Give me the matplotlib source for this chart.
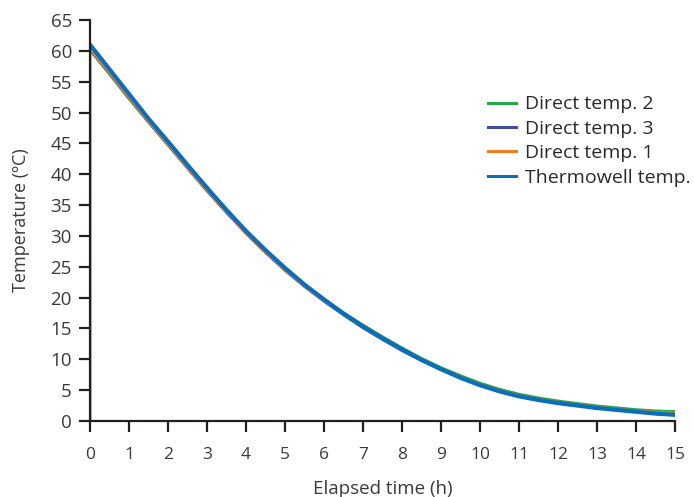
import matplotlib.pyplot as plt

# elapsed time (h), read every half hour
hours = [0, 0.5, 1, 1.5, 2, 2.5, 3, 3.5, 4, 4.5, 5, 5.5, 6, 6.5, 7, 7.5,
         8, 8.5, 9, 9.5, 10, 10.5, 11, 11.5, 12, 12.5, 13, 13.5, 14, 14.5, 15]

thermowell = [61.0, 57.0, 53.0, 49.0, 45.3, 41.5, 37.8, 34.2, 30.8, 27.7, 24.8,
              22.1, 19.7, 17.4, 15.3, 13.4, 11.6, 9.9, 8.4, 7.0, 5.8, 4.8,
              4.0, 3.4, 2.9, 2.5, 2.1, 1.8, 1.5, 1.2, 1.0]
direct1 = [60.4, 56.5, 52.5, 48.6, 44.9, 41.1, 37.4, 33.9, 30.5, 27.4, 24.5,
           21.9, 19.5, 17.3, 15.2, 13.3, 11.5, 9.9, 8.4, 7.1, 5.9, 4.9,
           4.1, 3.5, 3.0, 2.6, 2.2, 1.9, 1.6, 1.4, 1.3]
direct2 = [60.2, 56.3, 52.3, 48.5, 44.8, 41.1, 37.4, 33.9, 30.6, 27.5, 24.7,
           22.1, 19.7, 17.5, 15.5, 13.6, 11.8, 10.1, 8.6, 7.3, 6.1, 5.1,
           4.3, 3.7, 3.2, 2.8, 2.4, 2.1, 1.8, 1.6, 1.5]
direct3 = [60.3, 56.4, 52.4, 48.5, 44.8, 41.0, 37.3, 33.8, 30.4, 27.3, 24.4,
           21.8, 19.4, 17.2, 15.1, 13.2, 11.4, 9.8, 8.3, 7.0, 5.8, 4.8,
           4.0, 3.4, 2.9, 2.5, 2.1, 1.8, 1.5, 1.3, 1.2]

labels = ['Direct temp. 2', 'Direct temp. 3', 'Direct temp. 1', 'Thermowell temp.']
colors = ['#22a84a', '#3f4f9f', '#f47b20', '#0a6ebd']

plt.rcParams['font.family'] = ['Open Sans', 'DejaVu Sans']

fig = plt.figure(figsize=(6.94, 4.97), dpi=100)
ax = fig.add_axes([0.1297, 0.1529, 0.843, 0.8069])

# direct temp 3 trace starts at 0 on the axis
ax.plot(hours, direct2, color=colors[0], lw=2.4, label=labels[0])
ax.plot([0] + hours, [0] + direct3, color=colors[1], lw=2.0, label=labels[1])
ax.plot(hours, direct1, color=colors[2], lw=2.2, label=labels[2])
ax.plot(hours, thermowell, color=colors[3], lw=3.0, label=labels[3])

ax.set_xlim(0, 15)
ax.set_ylim(0, 65)
ax.set_xticks(range(0, 16))
ax.set_yticks(range(0, 66, 5))

dark = '#231f20'
for s in ['top', 'right']:
    ax.spines[s].set_visible(False)
for s in ['left', 'bottom']:
    ax.spines[s].set_color(dark)
    ax.spines[s].set_linewidth(1.6)
ax.tick_params(axis='x', direction='out', length=8, width=1.6, color=dark,
               labelsize=12.5, labelcolor='#3a3a3a', pad=11)
ax.tick_params(axis='y', direction='out', length=8, width=1.6, color=dark,
               labelsize=13.5, labelcolor='#3a3a3a', pad=5)

ax.set_xlabel('Elapsed time (h)', fontsize=13.5, color='#3a3a3a', labelpad=12)
ax.set_ylabel('Temperature (ºC)', fontsize=13, color='#3a3a3a', labelpad=15)

leg = ax.legend(loc='upper left', bbox_to_anchor=(0.68, 0.812), frameon=False,
                fontsize=14, handlelength=1.45, handletextpad=0.45,
                labelspacing=0.33, borderaxespad=0, borderpad=0)
for t in leg.get_texts():
    t.set_color('#2a2a2a')
for h in leg.get_lines():
    h.set_linewidth(2.2)

fig.savefig('out.png', dpi=100)
